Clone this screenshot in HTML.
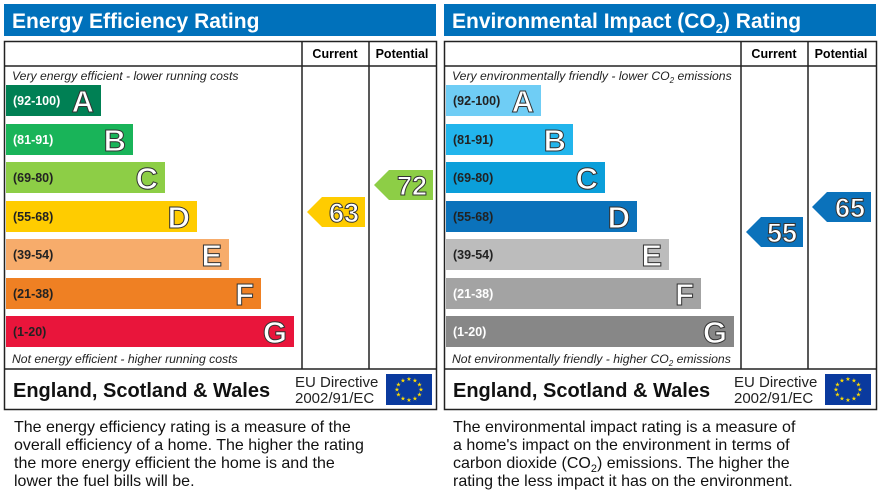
<!DOCTYPE html>
<html><head><meta charset="utf-8"><style>
body{margin:0;background:#fff}
svg{display:block;font-family:"Liberation Sans",Arial,sans-serif}
.r{font-size:12.5px;font-weight:bold}
.L{font-size:31px;font-weight:bold;fill:#fff;stroke:#333;stroke-width:1;text-anchor:end}
.n{font-size:27px;font-weight:bold;fill:#fff;stroke:#333;stroke-width:1;text-anchor:end}
.it{font-size:12.2px;font-style:italic;fill:#222}
.h{font-size:12.5px;font-weight:bold;text-anchor:middle}
.d{font-size:15px;fill:#222}
.t{font-size:16px;fill:#111}
.e{font-size:20px;font-weight:bold;fill:#111}
</style></head><body>
<svg width="880" height="493" viewBox="0 0 880 493">
<defs>
<g id="eu"><rect width="46" height="31" fill="#0a3a9e"/>
<g fill="#fd0" font-size="6" text-anchor="middle">
<text x="23" y="7">★</text><text x="29" y="8.5">★</text><text x="33.5" y="12.5">★</text><text x="35" y="17.5">★</text><text x="33.5" y="22.5">★</text><text x="29" y="26.5">★</text><text x="23" y="28">★</text><text x="17" y="26.5">★</text><text x="12.5" y="22.5">★</text><text x="11" y="17.5">★</text><text x="12.5" y="12.5">★</text><text x="17" y="8.5">★</text></g></g>
</defs>
<!-- LEFT -->
<rect x="4" y="4" width="432" height="32" fill="#0071bb"/>
<text x="12" y="28" fill="#fff" font-size="21" font-weight="bold">Energy Efficiency Rating</text>
<rect x="4.5" y="41.5" width="432" height="368" fill="none" stroke="#222" stroke-width="1.5"/>
<line x1="4" y1="66" x2="436" y2="66" stroke="#222" stroke-width="1.5"/>
<line x1="4" y1="369" x2="436" y2="369" stroke="#222" stroke-width="1.5"/>
<line x1="302" y1="41" x2="302" y2="369" stroke="#222" stroke-width="1.5"/>
<line x1="369" y1="41" x2="369" y2="369" stroke="#222" stroke-width="1.5"/>
<text class="h" x="335" y="58">Current</text><text class="h" x="402" y="58">Potential</text>
<text class="it" x="12" y="80">Very energy efficient - lower running costs</text>
<text class="it" x="12" y="363">Not energy efficient - higher running costs</text>
<rect x="6" y="85" width="95" height="31" fill="#008054"/><text class="r" x="13" y="105" fill="#fff">(92-100)</text><text class="L" x="94" y="112">A</text>
<rect x="6" y="124" width="127" height="31" fill="#19b459"/><text class="r" x="13" y="144" fill="#fff">(81-91)</text><text class="L" x="126" y="151">B</text>
<rect x="6" y="162" width="159" height="31" fill="#8dce46"/><text class="r" x="13" y="182" fill="#222">(69-80)</text><text class="L" x="158" y="189">C</text>
<rect x="6" y="201" width="191" height="31" fill="#ffcc00"/><text class="r" x="13" y="221" fill="#222">(55-68)</text><text class="L" x="190" y="228">D</text>
<rect x="6" y="239" width="223" height="31" fill="#f7ac6b"/><text class="r" x="13" y="259" fill="#222">(39-54)</text><text class="L" x="222" y="266">E</text>
<rect x="6" y="278" width="255" height="31" fill="#ef8023"/><text class="r" x="13" y="298" fill="#222">(21-38)</text><text class="L" x="254" y="305">F</text>
<rect x="6" y="316" width="288" height="31" fill="#e9153b"/><text class="r" x="13" y="336" fill="#222">(1-20)</text><text class="L" x="287" y="343">G</text>
<polygon points="307,212 322,197 365,197 365,227 322,227" fill="#ffcc00"/><text class="n" x="359" y="222">63</text>
<polygon points="374,185 389,170 433,170 433,200 389,200" fill="#8dce46"/><text class="n" x="427" y="195">72</text>
<text class="e" x="13" y="397">England, Scotland &amp; Wales</text>
<text class="d" x="295" y="387">EU Directive</text><text class="d" x="295" y="403">2002/91/EC</text>
<use href="#eu" x="386" y="374"/>
<g class="t"><text x="14" y="432">The energy efficiency rating is a measure of the</text><text x="14" y="450">overall efficiency of a home. The higher the rating</text><text x="14" y="468">the more energy efficient the home is and the</text><text x="14" y="486">lower the fuel bills will be.</text></g>
<!-- RIGHT -->
<rect x="444" y="4" width="432" height="32" fill="#0071bb"/>
<text x="452" y="28" fill="#fff" font-size="21" font-weight="bold">Environmental Impact (CO<tspan font-size="13" dy="5">2</tspan><tspan dy="-5">) Rating</tspan></text>
<rect x="444.5" y="41.5" width="432" height="368" fill="none" stroke="#222" stroke-width="1.5"/>
<line x1="444" y1="66" x2="876" y2="66" stroke="#222" stroke-width="1.5"/>
<line x1="444" y1="369" x2="876" y2="369" stroke="#222" stroke-width="1.5"/>
<line x1="741" y1="41" x2="741" y2="369" stroke="#222" stroke-width="1.5"/>
<line x1="808" y1="41" x2="808" y2="369" stroke="#222" stroke-width="1.5"/>
<text class="h" x="774" y="58">Current</text><text class="h" x="841" y="58">Potential</text>
<text class="it" x="452" y="80">Very environmentally friendly - lower CO<tspan font-size="8" dy="3">2</tspan><tspan dy="-3"> emissions</tspan></text>
<text class="it" x="452" y="363">Not environmentally friendly - higher CO<tspan font-size="8" dy="3">2</tspan><tspan dy="-3"> emissions</tspan></text>
<rect x="446" y="85" width="95" height="31" fill="#6fcdf5"/><text class="r" x="453" y="105" fill="#222">(92-100)</text><text class="L" x="534" y="112">A</text>
<rect x="446" y="124" width="127" height="31" fill="#22b5ec"/><text class="r" x="453" y="144" fill="#222">(81-91)</text><text class="L" x="566" y="151">B</text>
<rect x="446" y="162" width="159" height="31" fill="#0b9fda"/><text class="r" x="453" y="182" fill="#222">(69-80)</text><text class="L" x="598" y="189">C</text>
<rect x="446" y="201" width="191" height="31" fill="#0b72bb"/><text class="r" x="453" y="221" fill="#222">(55-68)</text><text class="L" x="630" y="228">D</text>
<rect x="446" y="239" width="223" height="31" fill="#bcbcbc"/><text class="r" x="453" y="259" fill="#222">(39-54)</text><text class="L" x="662" y="266">E</text>
<rect x="446" y="278" width="255" height="31" fill="#a3a3a3"/><text class="r" x="453" y="298" fill="#fff">(21-38)</text><text class="L" x="694" y="305">F</text>
<rect x="446" y="316" width="288" height="31" fill="#878787"/><text class="r" x="453" y="336" fill="#fff">(1-20)</text><text class="L" x="727" y="343">G</text>
<polygon points="746,232 761,217 803,217 803,247 761,247" fill="#0b72bb"/><text class="n" x="797" y="242">55</text>
<polygon points="812,207 827,192 871,192 871,222 827,222" fill="#0b72bb"/><text class="n" x="865" y="217">65</text>
<text class="e" x="453" y="397">England, Scotland &amp; Wales</text>
<text class="d" x="734" y="387">EU Directive</text><text class="d" x="734" y="403">2002/91/EC</text>
<use href="#eu" x="825" y="374"/>
<g class="t"><text x="453" y="432">The environmental impact rating is a measure of</text><text x="453" y="450">a home's impact on the environment in terms of</text><text x="453" y="468">carbon dioxide (CO<tspan font-size="11" dy="4">2</tspan><tspan dy="-4">) emissions. The higher the</tspan></text><text x="453" y="486">rating the less impact it has on the environment.</text></g>
</svg>
</body></html>
